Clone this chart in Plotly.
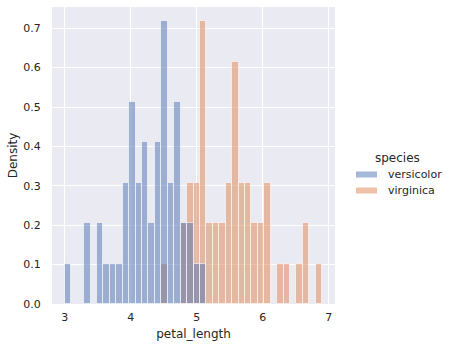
import numpy as np
import plotly.graph_objects as go

# iris petal lengths (value -> count) per species
versicolor_vals = [3.0, 3.3, 3.5, 3.6, 3.7, 3.8, 3.9, 4.0, 4.1, 4.2, 4.3, 4.4, 4.5, 4.6, 4.7, 4.8, 4.9, 5.0, 5.1]
versicolor_cnts = [1, 2, 2, 1, 1, 1, 3, 5, 3, 4, 2, 4, 7, 3, 5, 2, 2, 1, 1]
virginica_vals = [4.5, 4.8, 4.9, 5.0, 5.1, 5.2, 5.3, 5.4, 5.5, 5.6, 5.7, 5.8, 5.9, 6.0, 6.1, 6.3, 6.4, 6.6, 6.7, 6.9]
virginica_cnts = [1, 2, 3, 3, 7, 2, 2, 2, 3, 6, 3, 3, 2, 2, 3, 1, 1, 1, 2, 1]
n_bins = 40
species = ["versicolor", "virginica"]
x_ticks = [3, 4, 5, 6, 7]
y_ticks = [0.0, 0.1, 0.2, 0.3, 0.4, 0.5, 0.6, 0.7]

BG = "#EAEAF2"
TXT = "#262626"
colors = {"versicolor": "rgba(76,114,176,0.5)", "virginica": "rgba(221,132,82,0.5)"}

all_vals = versicolor_vals + virginica_vals
lo, hi = min(all_vals), max(all_vals)
edges = np.linspace(lo, hi, n_bins + 1)
bw = edges[1] - edges[0]
centers = (edges[:-1] + edges[1:]) / 2
total = sum(versicolor_cnts) + sum(virginica_cnts)

data = {"versicolor": (versicolor_vals, versicolor_cnts), "virginica": (virginica_vals, virginica_cnts)}

fig = go.Figure()
for sp in species[::-1]:
    vals, cnts = data[sp]
    h, _ = np.histogram(vals, bins=edges, weights=cnts)
    dens = h / (total * bw)
    mask = h > 0
    fig.add_trace(go.Bar(
        x=centers[mask], y=dens[mask], width=bw, name=sp,
        marker=dict(color=colors[sp], line=dict(color="rgba(255,255,255,0.6)", width=1)),
        showlegend=False,
    ))

ymax = (np.histogram(versicolor_vals, bins=edges, weights=versicolor_cnts)[0].max()) / (total * bw)
span = hi - lo
fig.update_layout(
    width=449, height=348,
    margin=dict(l=52, r=114, t=7, b=44),
    paper_bgcolor="white", plot_bgcolor=BG,
    barmode="overlay", bargap=0,
    font=dict(family="DejaVu Sans", size=11, color=TXT),
    xaxis=dict(range=[lo - 0.05 * span, hi + 0.05 * span], tickvals=x_ticks,
               showgrid=True, gridcolor="white", gridwidth=1, zeroline=False,
               ticks="outside", ticklen=3, tickcolor="rgba(0,0,0,0)",
               title=dict(text="petal_length", font=dict(size=12, color=TXT), standoff=6)),
    yaxis=dict(range=[0, ymax * 1.05], tickvals=y_ticks, tickformat=".1f",
               showgrid=True, gridcolor="white", gridwidth=1, zeroline=False,
               ticks="outside", ticklen=8, tickcolor="rgba(0,0,0,0)",
               title=dict(text="Density", font=dict(size=12, color=TXT), standoff=3)),
    bargroupgap=0,
)

# custom legend
px_w, px_h = 449 - 52 - 114, 348 - 7 - 44
def px_x(x):
    return (x - 52) / px_w
def px_y(y):
    return (348 - 44 - y) / px_h

fig.add_annotation(x=px_x(397), y=px_y(158), xref="paper", yref="paper", text="species",
                   showarrow=False, font=dict(size=12, color=TXT), xanchor="center", yanchor="middle")
for i, sp in enumerate(species):
    yc = 174.5 + 16 * i
    fig.add_shape(type="rect", xref="paper", yref="paper",
                  x0=px_x(356), x1=px_x(377), y0=px_y(yc - 3), y1=px_y(yc + 3),
                  fillcolor=colors[sp], line=dict(width=0))
    fig.add_annotation(x=px_x(386), y=px_y(yc), xref="paper", yref="paper", text=sp,
                       showarrow=False, font=dict(size=11, color=TXT), xanchor="left", yanchor="middle")

fig.write_html("out.html")
